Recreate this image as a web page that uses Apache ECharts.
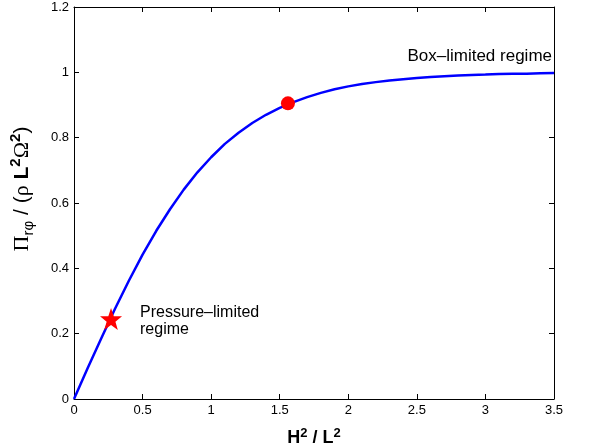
<!DOCTYPE html>
<html><head><meta charset="utf-8">
<script src="https://cdn.jsdelivr.net/npm/echarts@6/dist/echarts.min.js"></script>
<style>html,body{margin:0;padding:0;background:#fff}#c{width:601px;height:447px}</style>
</head><body><div id="c"></div>
<script>
const xValues = [0,0.1,0.2,0.3,0.4,0.5,0.6,0.7,0.8,0.9,1.0,1.1,1.2,1.3,1.4,1.5,1.6,1.7,1.8,1.9,2.0,2.1,2.2,2.3,2.4,2.5,2.6,2.7,2.8,2.9,3.0,3.1,3.2,3.3,3.4,3.5];
const yValues = [0,0.095,0.187,0.277,0.362,0.442,0.515,0.581,0.641,0.694,0.740,0.781,0.815,0.845,0.870,0.891,0.909,0.924,0.937,0.948,0.957,0.964,0.970,0.975,0.979,0.983,0.986,0.988,0.990,0.992,0.993,0.995,0.996,0.996,0.997,0.998];
const starPoint = [0.27, 0.245];
const circlePoint = [1.56, 0.905];
const xTicks = ['0','0.5','1','1.5','2','2.5','3','3.5'];
const yTicks = ['0','0.2','0.4','0.6','0.8','1','1.2'];

const font = '"Liberation Sans", Arial, Helvetica, sans-serif';
const serif = '"Liberation Serif", "DejaVu Serif", serif';
const chart = echarts.init(document.getElementById('c'));
const axisCommon = {
  axisLine: {onZero: false, lineStyle: {color: '#000', width: 1}},
  axisTick: {inside: true, length: 5, lineStyle: {color: '#000'}},
  splitLine: {show: false}
};
chart.setOption({
  animation: false,
  grid: {left: 74, right: 47, top: 7, bottom: 48, outerBoundsMode: 'none', containLabel: false},
  xAxis: [
    Object.assign({type: 'value', min: 0, max: 3.5, interval: 0.5, position: 'bottom',
      axisLabel: {color: '#000', fontFamily: font, fontSize: 13, margin: 5,
        formatter: v => xTicks[Math.round(v / 0.5)]},
      name: '{b|H}{s|2}{b| / L}{s|2}', nameLocation: 'middle', nameGap: 28,
      nameTextStyle: {rich: {
        b: {fontFamily: font, fontSize: 18, fontWeight: 'bold', color: '#000'},
        s: {fontFamily: font, fontSize: 13, fontWeight: 'bold', color: '#000', padding: [0,0,9,0]}
      }}}, axisCommon),
    Object.assign({type: 'value', min: 0, max: 3.5, interval: 0.5, position: 'top',
      axisLabel: {show: false}}, axisCommon)
  ],
  yAxis: [
    Object.assign({type: 'value', min: 0, max: 1.2, interval: 0.2, position: 'left',
      axisLabel: {color: '#000', fontFamily: font, fontSize: 13, margin: 5,
        formatter: v => yTicks[Math.round(v / 0.2)]},
      name: '{p|Π}{sub|rφ}{r| / (}{p|ρ}{b| L}{s|2}{p|Ω}{s|2}{r|)}', nameLocation: 'middle', nameGap: 38,
      nameTextStyle: {padding: [0, 0, 0, 28], rich: {
        p: {fontFamily: serif, fontSize: 22, color: '#000'},
        r: {fontFamily: font, fontSize: 21, color: '#000'},
        sub: {fontFamily: font, fontSize: 15, color: '#000', padding: [13,0,0,0]},
        b: {fontFamily: font, fontSize: 21, fontWeight: 'bold', color: '#000'},
        s: {fontFamily: font, fontSize: 15, fontWeight: 'bold', color: '#000', padding: [0,0,12,0]}
      }}}, axisCommon),
    Object.assign({type: 'value', min: 0, max: 1.2, interval: 0.2, position: 'right',
      axisLabel: {show: false}}, axisCommon)
  ],
  series: [
    {type: 'line', data: xValues.map((x, i) => [x, yValues[i]]), showSymbol: false, smooth: false,
      lineStyle: {color: '#0000ff', width: 2.5, join: 'round'}, clip: true},
    {type: 'scatter', data: [starPoint], symbol: 'path://M0,-10 L2.35,-3.24 L9.51,-3.09 L3.8,1.24 L5.88,8.09 L0,4 L-5.88,8.09 L-3.8,1.24 L-9.51,-3.09 L-2.35,-3.24 Z',
      symbolSize: 22, itemStyle: {color: '#ff0000', opacity: 1}, z: 5,
      label: {show: true, position: 'right', distance: 18, align: 'left', formatter: 'Pressure–limited\nregime',
        fontFamily: font, fontSize: 16, color: '#000', lineHeight: 17, offset: [0, 2]}},
    {type: 'scatter', data: [circlePoint], symbol: 'circle', symbolSize: 14, itemStyle: {color: '#ff0000', opacity: 1}, z: 5},
    {type: 'scatter', data: [[3.5, 1.0]], symbolSize: 0, itemStyle: {opacity: 1},
      label: {show: true, position: 'top', formatter: 'Box–limited regime', align: 'right',
        fontFamily: font, fontSize: 17, color: '#000', offset: [-2, -3]}}
  ]
});
</script></body></html>
